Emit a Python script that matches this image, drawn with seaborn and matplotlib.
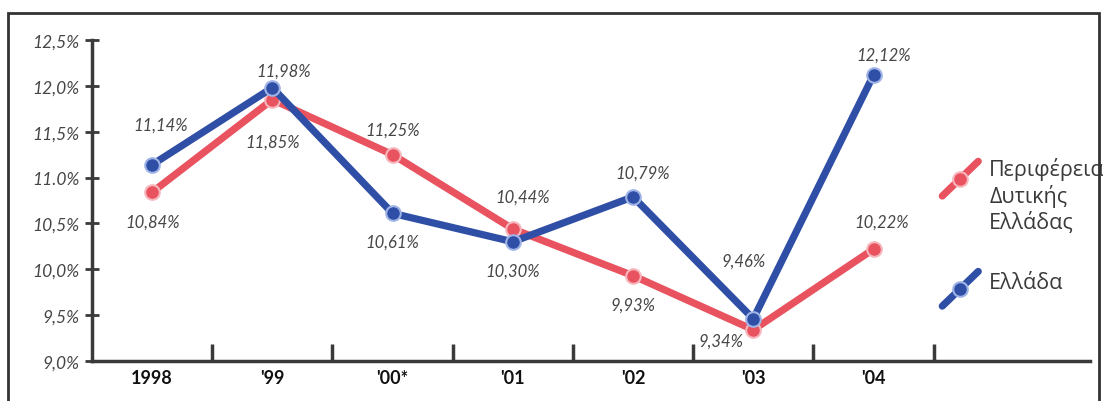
import matplotlib
matplotlib.use("Agg")
import matplotlib.pyplot as plt
import matplotlib.patches as patches
import seaborn as sns
import pandas as pd

# -- data
years = ["1998", "'99", "'00*", "'01", "'02", "'03", "'04"]
region_vals = [10.84, 11.85, 11.25, 10.44, 9.93, 9.34, 10.22]
greece_vals = [11.14, 11.98, 10.61, 10.30, 10.79, 9.46, 12.12]
series_names = ["Περιφέρεια\nΔυτικής\nΕλλάδας", "Ελλάδα"]
ytick_vals = [9.0, 9.5, 10.0, 10.5, 11.0, 11.5, 12.0, 12.5]
ytick_labels = ["9,0%", "9,5%", "10,0%", "10,5%", "11.0%", "11,5%", "12,0%", "12,5%"]

colors = {"region": "#e8535f", "greece": "#2f4fa6"}
rims = {"region": "#f7b5bc", "greece": "#9fb3e6"}

df = pd.DataFrame({
    "x": list(range(len(years))) * 2,
    "value": region_vals + greece_vals,
    "series": ["region"] * len(years) + ["greece"] * len(years),
})

sns.set_style("white")
plt.rcParams["font.family"] = ["Lato", "DejaVu Sans"]

fig = plt.figure(figsize=(11.03, 4.02), dpi=100)
ax = fig.add_axes([92 / 1103, 40 / 402, 998 / 1103, 321 / 402])

sns.lineplot(data=df, x="x", y="value", hue="series", hue_order=["region", "greece"],
             palette=colors, marker="o", markersize=10.5, linewidth=5.2,
             markeredgewidth=1.5, legend=False, ax=ax)
for line, key in zip(ax.lines, ["region", "greece"]):
    line.set_markeredgecolor(rims[key])

ax.set_xlim(-0.5, 7.8)
ax.set_ylim(9.0, 12.5)

# value labels: (dx in categories, dy in %) offsets
red_off = [(0, -0.32), (0, -0.46), (0, 0.27), (0.08, 0.35), (0, -0.31), (-0.27, -0.12), (0.07, 0.30)]
blue_off = [(0.07, 0.44), (0.09, 0.19), (0, -0.31), (0, -0.32), (0.08, 0.26), (-0.08, 0.63), (0.08, 0.22)]
for vals, offs in [(region_vals, red_off), (greece_vals, blue_off)]:
    for i, (v, (dx, dy)) in enumerate(zip(vals, offs)):
        ax.text(i + dx, v + dy, f"{v:.2f}%".replace(".", ","), ha="center", va="center",
                fontsize=12, style="italic", color="#464646")

# axes styling
for s in ["top", "right"]:
    ax.spines[s].set_visible(False)
for s in ["left", "bottom"]:
    ax.spines[s].set_linewidth(2.5)
    ax.spines[s].set_color("#3a3a3a")

ax.set_yticks(ytick_vals)
ax.set_yticklabels(ytick_labels, fontsize=12.5, style="italic", color="#464646")
ax.tick_params(axis="y", direction="inout", length=10, width=2, color="#3a3a3a", pad=4, left=True)

ax.set_xticks([i + 0.5 for i in range(len(years))])
ax.set_xticklabels([])
ax.tick_params(axis="x", direction="in", length=12, width=2.5, color="#3a3a3a", bottom=True)
for i, lab in enumerate(years):
    ax.text(i, 8.82, lab, ha="center", va="center", fontsize=13, fontweight="bold",
            color="#111111", clip_on=False)
ax.set_xlabel("")
ax.set_ylabel("")

# legend drawn as diagonal strokes like the original
legend_rows = [(series_names[0], "region", 0.514, 0.517),
               (series_names[1], "greece", 0.171, 0.246)]
for name, key, ymark, ytext in legend_rows:
    ax.plot([0.852, 0.888], [ymark, ymark + 0.108], transform=ax.transAxes,
            color=colors[key], linewidth=5.2, solid_capstyle="round", clip_on=False)
    ax.plot([0.870], [ymark + 0.054], transform=ax.transAxes, marker="o", markersize=10.5,
            color=colors[key], markeredgecolor=rims[key], markeredgewidth=1.5, clip_on=False)
    ax.text(0.899, ytext, name, transform=ax.transAxes, ha="left", va="center",
            fontsize=15.5, color="#3a3a3a", linespacing=1.25, family=["Open Sans", "DejaVu Sans"])

# outer frame
fig.patches.append(patches.Rectangle((8 / 1103, -0.05), 1091 / 1103, (402 - 14) / 402 + 0.05,
                                     transform=fig.transFigure, fill=False,
                                     edgecolor="#333333", linewidth=2, zorder=10))

fig.savefig("out.png", dpi=100)
